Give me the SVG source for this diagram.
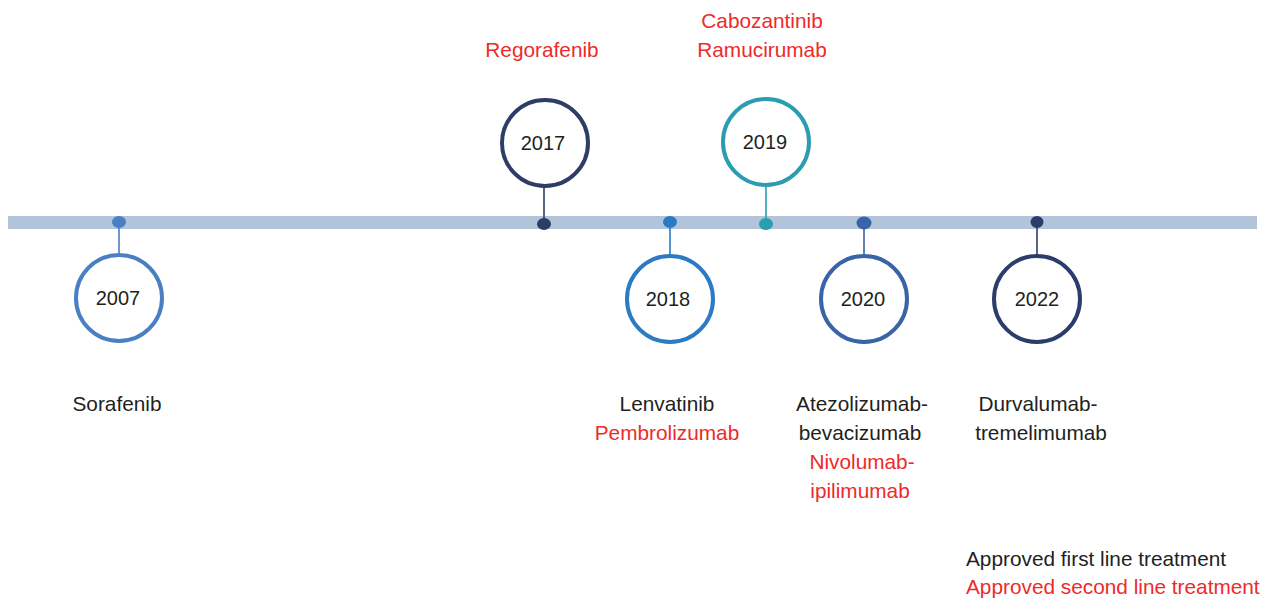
<svg xmlns="http://www.w3.org/2000/svg" width="1276" height="600" viewBox="0 0 1276 600">
<style>
text{font-family:"Liberation Sans","Open Sans",sans-serif;font-size:20.8px;fill:#231f20;text-anchor:middle}
.yr{font-size:20px}
.red{fill:#ee2a2a}
.leg{text-anchor:start}
.ring{fill:#fff;stroke-width:4}
.stem{stroke-width:1.6}
</style>
<rect x="8" y="216" width="1249" height="13" fill="#b1c4d9"/>
<g id="connectors">
<line class="stem" x1="119" y1="224" x2="119" y2="256" stroke="#4a7fc4"/>
<line class="stem" x1="544" y1="185" x2="544" y2="224" stroke="#2d3d66"/>
<line class="stem" x1="670" y1="222" x2="670" y2="257" stroke="#2a7bc4"/>
<line class="stem" x1="766" y1="185" x2="766" y2="224" stroke="#2a9db0"/>
<line class="stem" x1="864" y1="223" x2="864" y2="257" stroke="#3a64a8"/>
<line class="stem" x1="1037" y1="222" x2="1037" y2="257" stroke="#2b3e6b"/>
</g>
<g id="n2007">
<ellipse cx="119" cy="222" rx="7" ry="6" fill="#4a7fc4"/>
<circle class="ring" cx="119" cy="298" r="43" stroke="#4a7fc4"/>
<text class="yr" x="118" y="305">2007</text>
<text x="117" y="411">Sorafenib</text>
</g>
<g id="n2017">
<ellipse cx="544" cy="224" rx="7" ry="6" fill="#2d3d66"/>
<circle class="ring" cx="545" cy="143" r="43" stroke="#2d3d66"/>
<text class="yr" x="543" y="150">2017</text>
<text class="red" x="542" y="57">Regorafenib</text>
</g>
<g id="n2018">
<ellipse cx="670" cy="222" rx="7" ry="6" fill="#2a7bc4"/>
<circle class="ring" cx="670" cy="299" r="43" stroke="#2a7bc4"/>
<text class="yr" x="668" y="306">2018</text>
<text x="667" y="411">Lenvatinib</text>
<text class="red" x="667" y="440">Pembrolizumab</text>
</g>
<g id="n2019">
<ellipse cx="766" cy="224" rx="7" ry="6" fill="#2a9db0"/>
<circle class="ring" cx="766" cy="142" r="43" stroke="#2a9db0"/>
<text class="yr" x="765" y="149">2019</text>
<text class="red" x="762" y="28">Cabozantinib</text>
<text class="red" x="762" y="57">Ramucirumab</text>
</g>
<g id="n2020">
<ellipse cx="864" cy="223" rx="7.5" ry="6.5" fill="#3a64a8"/>
<circle class="ring" cx="864" cy="299" r="43" stroke="#3a64a8"/>
<text class="yr" x="863" y="306">2020</text>
<text x="862" y="411">Atezolizumab-</text>
<text x="860" y="440">bevacizumab</text>
<text class="red" x="862" y="469">Nivolumab-</text>
<text class="red" x="860" y="498">ipilimumab</text>
</g>
<g id="n2022">
<ellipse cx="1037" cy="222" rx="6.5" ry="6" fill="#2b3e6b"/>
<circle class="ring" cx="1037" cy="299" r="43" stroke="#2b3e6b"/>
<text class="yr" x="1037" y="306">2022</text>
<text x="1038" y="411">Durvalumab-</text>
<text x="1041" y="440">tremelimumab</text>
</g>
<g id="legend">
<text class="leg" x="966" y="566">Approved first line treatment</text>
<text class="leg red" x="966" y="594">Approved second line treatment</text>
</g>
</svg>
